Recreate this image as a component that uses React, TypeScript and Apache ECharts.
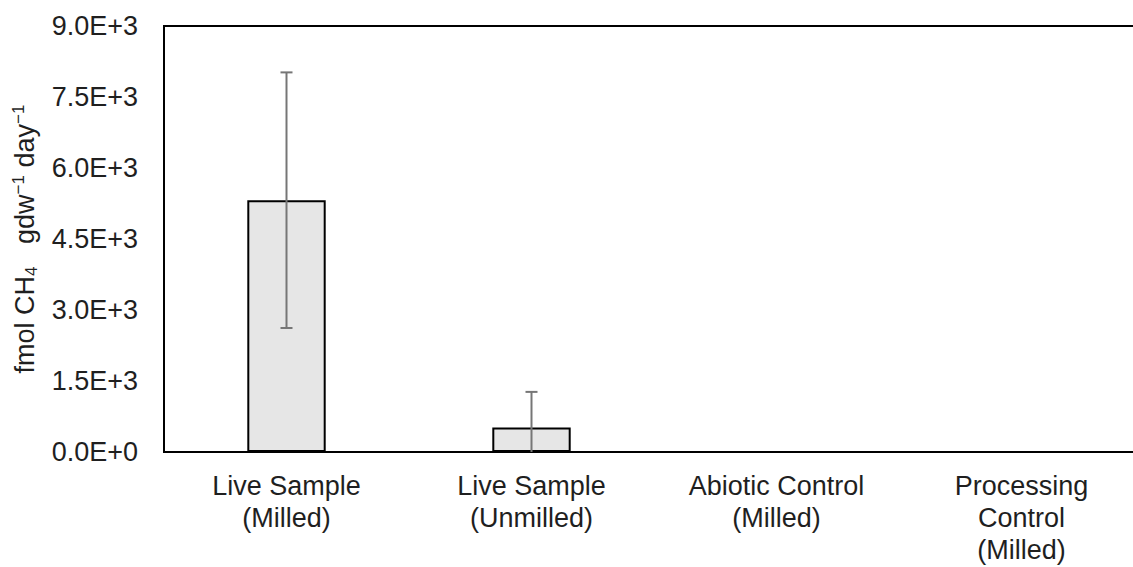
import React, { useEffect, useRef } from "react";
import * as echarts from "echarts";

// Methane production rates per treatment
const categories = [
  "Live Sample\n(Milled)",
  "Live Sample\n(Unmilled)",
  "Abiotic Control\n(Milled)",
  "Processing\nControl\n(Milled)",
];
const meanRates = [5320, 520, 0, 0];
const errorRates = [2700, 750, 0, 0];
const yTicks = { min: 0, max: 9000, interval: 1500 };

const FONT = "'Liberation Sans', Arial, sans-serif";
const TEXT = "#1f1f1f";

function sciLabel(v: number): string {
  if (v === 0) return "0.0E+0";
  const exp = Math.floor(Math.log10(Math.abs(v)));
  const mant = v / Math.pow(10, exp);
  return `${mant.toFixed(1)}E+${exp}`;
}

export default function App() {
  const ref = useRef<HTMLDivElement>(null);

  useEffect(() => {
    if (!ref.current) return;
    const chart = echarts.init(ref.current, undefined, { renderer: "svg" });

    const errorData = meanRates.map((m, i) => [i, m - errorRates[i], m + errorRates[i]]);

    chart.setOption({
      animation: false,
      backgroundColor: "#ffffff",
      grid: {
        left: 164,
        top: 26,
        bottom: 115,
        right: 1,
        outerBoundsMode: "none",
        containLabel: false,
        show: true,
        borderColor: "#000000",
        borderWidth: 2,
        backgroundColor: "transparent",
      },
      xAxis: {
        type: "category",
        data: categories,
        axisLine: { show: true, lineStyle: { color: "#000000", width: 2 } },
        axisTick: { show: false },
        axisLabel: {
          interval: 0,
          margin: 18,
          color: TEXT,
          fontFamily: FONT,
          fontSize: 27,
          lineHeight: 32,
        },
      },
      yAxis: {
        type: "value",
        min: yTicks.min,
        max: yTicks.max,
        interval: yTicks.interval,
        name: "{t|fmol CH}{sub|4}{t|   gdw}{sup|\u22121}{t| day}{sup|\u22121}",
        nameLocation: "middle",
        nameGap: 124,
        nameRotate: 90,
        nameTextStyle: {
          color: TEXT,
          fontFamily: FONT,
          fontSize: 27,
          rich: {
            t: { color: TEXT, fontFamily: FONT, fontSize: 27, lineHeight: 30, verticalAlign: "middle" },
            sub: { color: TEXT, fontFamily: FONT, fontSize: 17, lineHeight: 30, verticalAlign: "bottom" },
            sup: { color: TEXT, fontFamily: FONT, fontSize: 17, lineHeight: 30, verticalAlign: "top" },
          },
        },
        axisLine: { show: true, lineStyle: { color: "#000000", width: 2 } },
        axisTick: { show: false },
        splitLine: { show: false },
        axisLabel: {
          margin: 26,
          color: TEXT,
          fontFamily: FONT,
          fontSize: 27,
          formatter: (v: number) => sciLabel(v),
        },
      },
      series: [
        {
          type: "bar",
          data: meanRates,
          barWidth: "32%",
          itemStyle: { color: "#e6e6e6", borderColor: "#000000", borderWidth: 2 },
          z: 2,
        },
        {
          type: "custom",
          z: 3,
          data: errorData,
          renderItem: (params: any, api: any) => {
            const idx = api.value(0);
            const lo = Math.max(api.value(1), yTicks.min);
            const hi = api.value(2);
            if (hi <= lo) return null;
            const top = api.coord([idx, hi]);
            const bot = api.coord([idx, lo]);
            const cap = 6;
            const style = { stroke: "#767676", lineWidth: 2, fill: "none" };
            const children: any[] = [
              { type: "line", shape: { x1: top[0], y1: top[1], x2: bot[0], y2: bot[1] }, style },
              { type: "line", shape: { x1: top[0] - cap, y1: top[1], x2: top[0] + cap, y2: top[1] }, style },
            ];
            if (api.value(1) >= yTicks.min) {
              children.push({
                type: "line",
                shape: { x1: bot[0] - cap, y1: bot[1], x2: bot[0] + cap, y2: bot[1] },
                style,
              });
            }
            return { type: "group", children };
          },
        },
      ],
    });

    return () => chart.dispose();
  }, []);

  // The plot runs slightly past the right edge of the visible frame
  return (
    <div
      style={{
        position: "fixed",
        left: 0,
        top: 0,
        width: 1133,
        height: 567,
        overflow: "hidden",
        background: "#ffffff",
      }}
    >
      <div ref={ref} style={{ width: 1145, height: 567 }} />
    </div>
  );
}
